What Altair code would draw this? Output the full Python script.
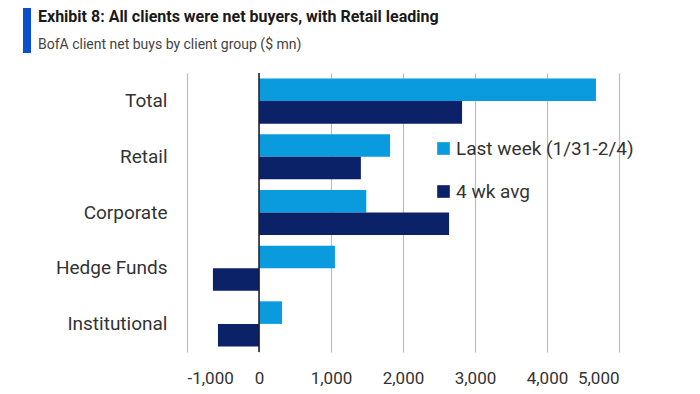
import altair as alt
import pandas as pd

categories = ["Total", "Retail", "Corporate", "Hedge Funds", "Institutional"]
series = ["Last week (1/31-2/4)", "4 wk avg"]
last_week = [4680, 1820, 1490, 1055, 320]
four_wk_avg = [2820, 1415, 2640, -640, -570]
x_ticks = [-1000, 0, 1000, 2000, 3000, 4000, 5000]
colors = ["#0a9ade", "#0c2268"]
title_text = "Exhibit 8: All clients were net buyers, with Retail leading"
subtitle_text = "BofA client net buys by client group ($ mn)"

rows = []
for c, a, b in zip(categories, last_week, four_wk_avg):
    rows.append({"group": c, "series": series[0], "value": a})
    rows.append({"group": c, "series": series[1], "value": b})
df = pd.DataFrame(rows)

FONT = "Roboto"

bars = alt.Chart(df).mark_bar().encode(
    y=alt.Y("group:N", sort=categories, title=None,
            scale=alt.Scale(paddingInner=0.19, paddingOuter=0.1),
            axis=alt.Axis(domain=False, ticks=False, labelPadding=20,
                          labelFontSize=19, labelColor="#333333", labelFont=FONT)),
    x=alt.X("value:Q", title=None,
            scale=alt.Scale(domain=[-1000, 5000], nice=False),
            axis=alt.Axis(values=x_ticks, format=",d", domain=False, ticks=False,
                          labelExpr="replace(datum.label, '\u2212', '-')",
                          labelPadding=18, labelFontSize=17, labelColor="#333333",
                          labelFont=FONT, gridColor="#bdbdbd", gridWidth=1.2)),
    yOffset=alt.YOffset("series:N", sort=series),
    color=alt.Color("series:N", sort=series,
                    scale=alt.Scale(domain=series, range=colors),
                    legend=alt.Legend(title=None, orient="none", legendX=247, legendY=66,
                                      symbolType="square", symbolSize=160,
                                      labelFontSize=19, labelFont=FONT, labelOffset=3,
                                      labelLimit=400,
                                      labelColor="#333333", rowPadding=23,
                                      symbolStrokeWidth=0)),
)

zero = alt.Chart(pd.DataFrame({"z": [0]})).mark_rule(color="#1a1a2e", strokeWidth=1.5).encode(
    x=alt.X("z:Q")
)

accent = alt.Chart(pd.DataFrame({"a": [0]})).mark_rule(color="#0a4fd0", strokeWidth=8).encode(
    x=alt.value(-160), y=alt.value(-73), y2=alt.value(-20)
)

title = alt.Chart(pd.DataFrame({"t": [title_text]})).mark_text(
    align="left", baseline="alphabetic", font=FONT, fontSize=16, fontWeight="bold",
    color="#1a1a1a"
).encode(x=alt.value(-149), y=alt.value(-51), text="t:N")

subtitle = alt.Chart(pd.DataFrame({"s": [subtitle_text]})).mark_text(
    align="left", baseline="alphabetic", font=FONT, fontSize=14, color="#444444"
).encode(x=alt.value(-149), y=alt.value(-24), text="s:N")

chart = alt.layer(bars, zero, accent, title, subtitle).properties(
    width=432, height=279,
    padding={"left": 179, "top": 65, "right": 73, "bottom": 34},
    autosize=alt.AutoSizeParams(type="none"),
).configure_view(stroke=None)

chart.save("out.html", embed_options={"renderer": "svg", "actions": False})
